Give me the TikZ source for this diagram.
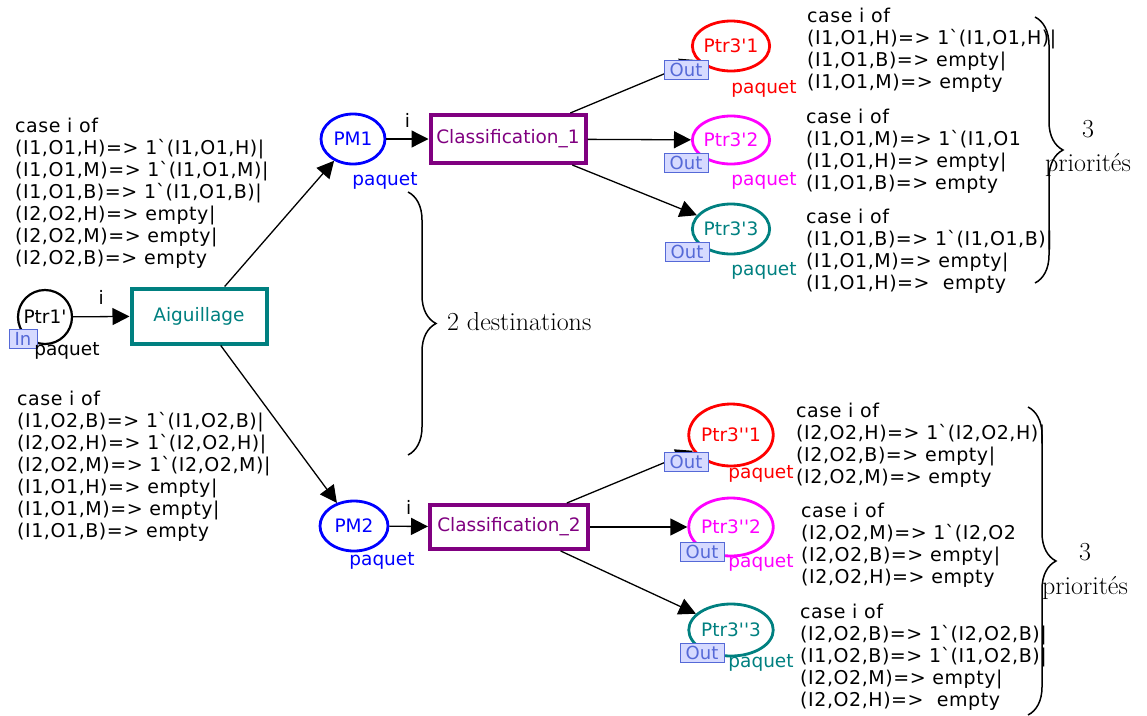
\documentclass[tikz,border=0pt]{standalone}
\usepackage{fontspec}
\usepackage{xcolor}
\usepackage{tikz}
\usetikzlibrary{arrows.meta,positioning,calc,shapes.geometric,decorations.pathreplacing}
\newfontfamily\cpnfont{DejaVu Sans}
\newfontfamily\cpncase[LetterSpace=3]{DejaVu Sans}
\newcommand\cpnbq{\textasciigrave}
\newcommand\cpnsq{\textquotesingle}
\definecolor{cpnteal}{RGB}{0,128,128}
\definecolor{cpnpurple}{RGB}{128,0,128}
\definecolor{cpnred}{RGB}{255,0,0}
\definecolor{cpnmag}{RGB}{255,0,255}
\definecolor{cpnblue}{RGB}{0,0,255}
\definecolor{tagfill}{RGB}{214,218,255}
\definecolor{tagdraw}{RGB}{85,105,215}

\begin{document}
\begin{tikzpicture}[x=1pt,y=-1pt,>={Triangle[length=17pt,width=17pt]},
  place/.style={ellipse,draw,line width=2.8pt,inner sep=0pt,font=\cpnfont\fontsize{18.5}{21}\selectfont},
  trans/.style={rectangle,draw,line width=4pt,inner sep=0pt,font=\cpnfont\fontsize{18.5}{21}\selectfont},
  arc/.style={->,line width=1.3pt},
  tag/.style={draw=tagdraw,fill=tagfill,text=tagdraw,line width=1pt,inner sep=0pt,minimum width=44pt,minimum height=19pt,font=\cpnfont\fontsize{18}{18}\selectfont},
  lab/.style={inner sep=0pt,font=\cpnfont\fontsize{18.5}{21}\selectfont},
  cs/.style={align=left,anchor=north west,inner sep=0pt,font=\cpncase\fontsize{19}{22}\selectfont},
  br/.style={decorate,decoration={brace,amplitude=28pt},line width=1.5pt},
  big/.style={align=center,inner sep=0pt,font=\fontsize{26}{34}\selectfont}]
\useasboundingbox (0,0) rectangle (1147,715);

\node[place,circle,minimum size=54pt,line width=2.2pt] (ptr1) at (45,317) {Ptr1\cpnsq};
\node[trans,draw=cpnteal,text=cpnteal,minimum width=135pt,minimum height=55pt] (aig) at (199,316) {Aiguillage};
\node[place,draw=cpnblue,text=cpnblue,minimum width=64pt,minimum height=50pt] (pm1) at (353,139) {PM1};
\node[place,draw=cpnblue,text=cpnblue,minimum width=68pt,minimum height=50pt] (pm2) at (354,526) {PM2};
\node[trans,draw=cpnpurple,text=cpnpurple,minimum width=155pt,minimum height=48pt] (cl1) at (508,139) {Classification\_1};
\node[trans,draw=cpnpurple,text=cpnpurple,minimum width=158pt,minimum height=44pt] (cl2) at (509,527) {Classification\_2};

\node[place,draw=cpnred,text=cpnred,minimum width=64pt,minimum height=50pt] (p1a) at (731,46) {Ptr3\cpnsq1};
\node[place,draw=cpnmag,text=cpnmag,minimum width=68pt,minimum height=48pt] (p1b) at (731,140) {Ptr3\cpnsq2};
\node[place,draw=cpnteal,text=cpnteal,minimum width=68pt,minimum height=50pt] (p1c) at (731,229) {Ptr3\cpnsq3};
\node[place,draw=cpnred,text=cpnred,minimum width=72pt,minimum height=62pt] (p2a) at (731,435) {Ptr3\cpnsq\cpnsq1};
\node[place,draw=cpnmag,text=cpnmag,minimum width=72pt,minimum height=58pt] (p2b) at (731,527) {Ptr3\cpnsq\cpnsq2};
\node[place,draw=cpnteal,text=cpnteal,minimum width=72pt,minimum height=52pt] (p2c) at (731,630) {Ptr3\cpnsq\cpnsq3};

\draw[arc] (ptr1) -- node[lab,above=11pt] (i1) {i} (aig);
\draw[arc] (aig) -- (pm1);
\draw[arc] (aig) -- (pm2);
\draw[arc] (pm1) -- node[lab,above=11pt] (i2) {i} (cl1);
\draw[arc] (pm2) -- node[lab,above=11pt] (i3) {i} (cl2);
\foreach \t in {p1a,p1b,p1c} \draw[arc] (cl1) -- (\t);
\foreach \t in {p2a,p2b,p2c} \draw[arc] (cl2) -- (\t);

\node[tag,minimum width=28pt] (tin) at (23,339) {In};
\foreach \n/\x/\y in {ta/686/70,tb/686/163,tc/687/252,td/686/462,te/702/552,tf/702/653}
  \node[tag] (\n) at (\x,\y) {Out};

\foreach \n/\x/\y/\c in {q0/67/351/black,q1/385/181/cpnblue,q2/382/561/cpnblue,q3/764/89/cpnred,q4/764/181/cpnmag,q5/764/271/cpnteal,q6/761/474/cpnred,q7/761/563/cpnmag,q8/761/663/cpnteal}
  \node[lab,text=\c] (\n) at (\x,\y) {paquet};

\node[cs] (lt) at (15,117.5) {case i of\\(I1,O1,H)=> 1\cpnbq(I1,O1,H)|\\(I1,O1,M)=> 1\cpnbq(I1,O1,M)|\\(I1,O1,B)=> 1\cpnbq(I1,O1,B)|\\(I2,O2,H)=> empty|\\(I2,O2,M)=> empty|\\(I2,O2,B)=> empty};
\node[cs] (lb) at (17,390.5) {case i of\\(I1,O2,B)=> 1\cpnbq(I1,O2,B)|\\(I2,O2,H)=> 1\cpnbq(I2,O2,H)|\\(I2,O2,M)=> 1\cpnbq(I2,O2,M)|\\(I1,O1,H)=> empty|\\(I1,O1,M)=> empty|\\(I1,O1,B)=> empty};
\node[cs] (ra) at (807,7.5) {case i of\\(I1,O1,H)=> 1\cpnbq(I1,O1,H)|\\(I1,O1,B)=> empty|\\(I1,O1,M)=> empty};
\node[cs] (rb) at (806,108.5) {case i of\\(I1,O1,M)=> 1\cpnbq(I1,O1\\(I1,O1,H)=> empty|\\(I1,O1,B)=> empty};
\node[cs] (rc) at (806,208.5) {case i of\\(I1,O1,B)=> 1\cpnbq(I1,O1,B)|\\(I1,O1,M)=> empty|\\(I1,O1,H)=> \ empty};
\node[cs] (rd) at (796,402.5) {case i of\\(I2,O2,H)=> 1\cpnbq(I2,O2,H)|\\(I2,O2,B)=> empty|\\(I2,O2,M)=> empty};
\node[cs] (re) at (801,502.5) {case i of\\(I2,O2,M)=> 1\cpnbq(I2,O2\\(I2,O2,B)=> empty|\\(I2,O2,H)=> empty};
\node[cs] (rf) at (800,603.5) {case i of\\(I2,O2,B)=> 1\cpnbq(I2,O2,B)|\\(I1,O2,B)=> 1\cpnbq(I1,O2,B)|\\(I2,O2,M)=> empty|\\(I2,O2,H)=> \ empty};

\draw[br] (408,192) -- (408,455);
\draw[br] (1035,17) -- (1035,283);
\draw[br] (1028,407) -- (1028,715);
\node[big,anchor=west] (dest) at (447,322) {2 destinations};
\node[big] (prio1) at (1088,148) {3\\priorités};
\node[big] (prio2) at (1085,571) {3\\priorités};
\end{tikzpicture}
\end{document}
